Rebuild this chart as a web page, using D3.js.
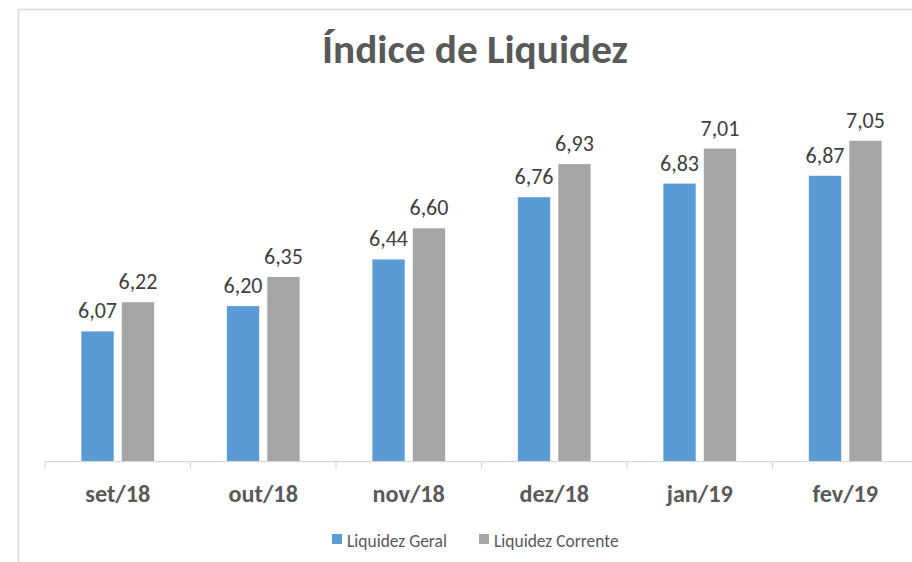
<!DOCTYPE html>
<html>
<head>
<meta charset="utf-8">
<script src="https://cdn.jsdelivr.net/npm/d3@7"></script>
<style>
  body { margin: 0; background: #fff; }
  svg { display: block; font-family: Carlito, Lato, "Open Sans", sans-serif; }
</style>
</head>
<body>
<div id="chart"></div>
<script>
// données du graphique
const meses = ["set/18", "out/18", "nov/18", "dez/18", "jan/19", "fev/19"];
const series = ["Liquidez Geral", "Liquidez Corrente"];
const liquidezGeral = [6.07, 6.20, 6.44, 6.76, 6.83, 6.87];
const liquidezCorrente = [6.22, 6.35, 6.60, 6.93, 7.01, 7.05];
const cores = ["#5B9BD5", "#A5A5A5"];

const width = 912, height = 562;
const valores = [liquidezGeral, liquidezCorrente];
const fmt = v => v.toFixed(2).replace(".", ",");

const svg = d3.select("#chart").append("svg")
    .attr("width", width)
    .attr("height", height);

// taille de police pour qu'un texte témoin ait la largeur voulue
function fitSize(txt, target, weight) {
    const t = svg.append("text")
        .attr("font-size", 20)
        .attr("font-weight", weight)
        .text(txt);
    const w = t.node().getComputedTextLength();
    t.remove();
    return 20 * target / w;
}
const sizeTitle = fitSize("Índice de Liquidez", 306, "bold");
const sizeLabel = fitSize("6,07", 39, "normal");
const sizeCat = fitSize("set/18", 65, "bold");
const sizeLeg = fitSize("Liquidez Geral", 100, "normal");

// cadre du graphique (bords gauche et haut visibles)
svg.append("path")
    .attr("d", "M18.5,562 V9.5 H912")
    .attr("fill", "none")
    .attr("stroke", "#d9d9d9")
    .attr("stroke-width", 1.5);

svg.append("text")
    .attr("x", 475)
    .attr("y", 63)
    .attr("text-anchor", "middle")
    .attr("fill", "#595959")
    .attr("font-weight", "bold")
    .attr("font-size", sizeTitle)
    .text("Índice de Liquidez");

const x0 = d3.scaleBand()
    .domain(meses)
    .range([45, 918])
    .paddingInner(0.5)
    .paddingOuter(0.25);

const x1 = d3.scaleBand()
    .domain(series)
    .range([0, x0.bandwidth()])
    .paddingInner(0.2);

const y = d3.scaleLinear()
    .domain([5.4, 7.2])
    .range([461.7, 111.6]);

const rows = meses.map((m, i) => ({ mes: m, vals: series.map((s, k) => ({ serie: s, k: k, v: valores[k][i] })) }));

const grupos = svg.selectAll(".grupo").data(rows).enter().append("g")
    .attr("class", "grupo")
    .attr("transform", d => `translate(${x0(d.mes)},0)`);

grupos.selectAll("rect").data(d => d.vals).enter().append("rect")
    .attr("x", d => x1(d.serie))
    .attr("y", d => y(d.v))
    .attr("width", x1.bandwidth())
    .attr("height", d => y(5.4) - y(d.v))
    .attr("fill", d => cores[d.k]);

grupos.selectAll(".rotulo").data(d => d.vals).enter().append("text")
    .attr("class", "rotulo")
    .attr("x", d => x1(d.serie) + x1.bandwidth() / 2)
    .attr("y", d => y(d.v) - 13)
    .attr("text-anchor", "middle")
    .attr("font-size", sizeLabel)
    .attr("fill", "#404040")
    .text(d => fmt(d.v));

// axe des catégories
const xAxis = d3.axisBottom(x0).tickSize(0).tickPadding(0);
const ax = svg.append("g")
    .attr("transform", `translate(0,${y(5.4)})`)
    .call(xAxis);
ax.select(".domain").remove();
ax.append("line")
    .attr("x1", 45).attr("x2", 918)
    .attr("stroke", "#d9d9d9").attr("stroke-width", 1.2);
ax.selectAll(".sep").data(d3.range(meses.length + 1)).enter().append("line")
    .attr("class", "sep")
    .attr("x1", i => 45 + i * x0.step())
    .attr("x2", i => 45 + i * x0.step())
    .attr("y1", 0).attr("y2", 7)
    .attr("stroke", "#d9d9d9").attr("stroke-width", 1.2);
ax.selectAll(".tick text")
    .attr("y", 40)
    .attr("dy", 0)
    .attr("font-family", "Carlito, Lato, 'Open Sans', sans-serif")
    .attr("font-size", sizeCat)
    .attr("font-weight", "bold")
    .attr("fill", "#595959");

// légende
const legendX = [332, 479];
const leg = svg.selectAll(".leg").data(series).enter().append("g")
    .attr("class", "leg")
    .attr("transform", (d, i) => `translate(${legendX[i]},534)`);
leg.append("rect")
    .attr("width", 10).attr("height", 10)
    .attr("fill", (d, i) => cores[i]);
leg.append("text")
    .attr("x", 15)
    .attr("y", 12.5)
    .attr("font-size", sizeLeg)
    .attr("fill", "#595959")
    .text(d => d);
</script>
</body>
</html>
